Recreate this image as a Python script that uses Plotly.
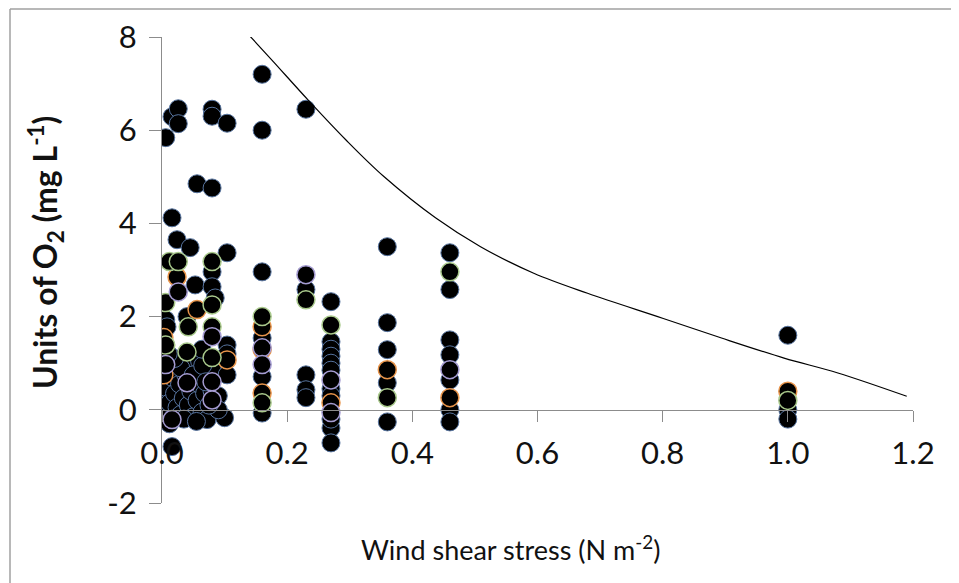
import plotly.graph_objects as go

# ---- data ----
plain_x = [0.006, 0.016, 0.026, 0.026, 0.08, 0.08, 0.104, 0.16, 0.16, 0.23,
           0.056, 0.08, 0.016, 0.024, 0.045, 0.104,
           0.16, 0.08, 0.053, 0.08, 0.006, 0.008, 0.104, 0.16, 0.16, 0.16, 0.056,
           0.23, 0.23, 0.23, 0.23,
           0.27, 0.27, 0.27, 0.27, 0.27, 0.27, 0.27, 0.27, 0.27, 0.27, 0.27,
           0.36, 0.36, 0.36, 0.36, 0.36,
           0.46, 0.46, 0.46, 0.46, 0.46, 0.46, 0.46,
           1.0, 1.0, 1.0,
           0.003, 0.003, 0.003, 0.006, 0.01, 0.012, 0.016, 0.02, 0.024, 0.028,
           0.03, 0.034, 0.038, 0.042, 0.046, 0.05, 0.056, 0.06, 0.064, 0.068,
           0.072, 0.08, 0.08, 0.1, 0.104, 0.104, 0.016, 0.045, 0.06,
           0.03, 0.05, 0.065, 0.07, 0.09, 0.09, 0.035, 0.012, 0.055, 0.075,
           0.02, 0.064, 0.01, 0.04, 0.085]
plain_y = [5.84, 6.29, 6.46, 6.14, 6.45, 6.3, 6.15, 7.2, 6.0, 6.45,
           4.85, 4.76, 4.12, 3.65, 3.48, 3.37,
           2.96, 2.96, 2.68, 2.64, 1.93, 1.78, 1.39, 1.54, 0.71, -0.07, 0.79,
           2.58, 0.75, 0.43, 0.26,
           2.32, 1.46, 1.3, 1.15, 1.0, 0.85, 0.45, 0.3, -0.39, -0.71, -0.2,
           3.5, 1.87, 1.29, 0.58, -0.26,
           3.37, 2.58, 1.5, 1.18, 0.64, 0.0, -0.26,
           1.6, 0.0, -0.2,
           0.6, 0.3, 0.0, -0.2, 0.45, 0.15, 0.7, 0.35, 0.05, 0.55,
           -0.1, 0.25, 0.75, 0.1, 0.4, -0.15, 0.2, 0.55, -0.05, 0.35,
           -0.21, 0.9, 0.4, -0.17, 0.75, 1.2, -0.79, 1.0, 1.05,
           0.9, 0.75, 0.95, 0.6, 0.3, 0.0, -0.2, -0.3, -0.25, 0.1,
           1.1, 1.3, 1.2, 2.0, 2.4]

orange_x = [0.024, 0.056, 0.104, 0.003, 0.003, 0.16, 0.16, 0.16, 0.27, 0.36, 0.46, 1.0]
orange_y = [2.85, 2.15, 1.07, 1.55, 0.75, 1.78, 1.29, 0.36, 0.15, 0.86, 0.26, 0.4]

green_x = [0.012, 0.026, 0.08, 0.006, 0.08, 0.042, 0.006, 0.04, 0.08, 0.08,
           0.16, 0.16, 0.23, 0.27, 0.36, 0.46, 1.0]
green_y = [3.18, 3.18, 3.18, 2.3, 2.25, 1.78, 1.39, 1.24, 1.12, 1.78,
           2.0, 0.15, 2.36, 1.82, 0.26, 2.96, 0.2]

purple_x = [0.026, 0.08, 0.006, 0.04, 0.08, 0.08, 0.016, 0.16, 0.16, 0.23,
            0.27, 0.27, 0.46]
purple_y = [2.53, 1.57, 0.97, 0.58, 0.6, 0.21, -0.21, 1.33, 0.97, 2.9,
            0.64, -0.06, 0.86]

curve_x = [0.137, 0.176, 0.234, 0.294, 0.355, 0.437, 0.509, 0.594, 0.680,
           0.801, 0.894, 0.994, 1.080, 1.19]
curve_y = [8.07, 7.5, 6.64, 5.79, 5.0, 4.12, 3.5, 2.93, 2.5,
           1.96, 1.54, 1.11, 0.79, 0.29]

x_ticks = [0.0, 0.2, 0.4, 0.6, 0.8, 1.0, 1.2]
x_ticklabels = ["0.0", "0.2", "0.4", "0.6", "0.8", "1.0", "1.2"]
y_ticks = [-2, 0, 2, 4, 6, 8]
y_ticklabels = ["-2", "0", "2", "4", "6", "8"]

FONT = "Lato"
MSIZE = 18
OFF = 8  # default page body margin
# target plot-area edges in page pixels
PL, PT, PR, PB = 162, 37, 913, 503
W, H = 959, 583
PW, PH = PR - PL, PB - PT

fig = go.Figure()


def add_series(xs, ys, edge, w):
    fig.add_trace(go.Scatter(
        x=xs, y=ys, mode="markers", showlegend=False,
        marker=dict(size=MSIZE, color="black", line=dict(color=edge, width=w)),
    ))


add_series(plain_x, plain_y, "#56739E", 1)
add_series(orange_x, orange_y, "#E8944A", 1.5)
add_series(green_x, green_y, "#A9C98C", 1.5)
add_series(purple_x, purple_y, "#A59CD2", 1.5)

fig.add_trace(go.Scatter(x=curve_x, y=curve_y, mode="lines", showlegend=False,
                         line=dict(color="black", width=1.2, shape="spline")))


def px(xp):
    return (xp - PL) / PW


def py(yp):
    return (PB - yp) / PH


fig.update_layout(
    width=W, height=H,
    margin=dict(l=PL - OFF, r=W - PR + OFF, t=PT - OFF, b=H - PB + OFF, autoexpand=False),
    paper_bgcolor="white", plot_bgcolor="rgba(0,0,0,0)",
    font=dict(family=FONT, size=31, color="#111111"),
    xaxis=dict(
        range=[0, 1.2], tickvals=x_ticks, ticktext=x_ticklabels,
        anchor="free", position=0.2, automargin=False,
        showgrid=False, zeroline=False, showline=True, linecolor="#8C8C8C", linewidth=1.3,
        ticks="outside", ticklen=11, tickcolor="#8C8C8C", tickwidth=1.3,
        ticklabelstandoff=5, tickfont=dict(family=FONT, size=31, color="#111111"),
    ),
    yaxis=dict(
        range=[-2, 8], tickvals=y_ticks, ticktext=y_ticklabels, automargin=False,
        showgrid=False, zeroline=False, showline=True, linecolor="#8C8C8C", linewidth=1.3,
        ticks="outside", ticklen=12, tickcolor="#8C8C8C", tickwidth=1.3,
        ticklabelstandoff=6, tickfont=dict(family=FONT, size=31, color="#111111"),
    ),
    annotations=[
        dict(text="Wind shear stress (N m<sup>-2</sup>)", xref="paper", yref="paper",
             x=px(510), y=py(548), xanchor="center", yanchor="middle",
             showarrow=False, font=dict(family=FONT, size=27, color="#111111")),
        dict(text="<b>Units of O<sub>2</sub> (mg L<sup>-1</sup>)</b>", xref="paper", yref="paper",
             x=px(45), y=py(253), xanchor="center", yanchor="middle",
             textangle=-90, showarrow=False, font=dict(family=FONT, size=32, color="#111111")),
    ],
    shapes=[
        dict(type="line", xref="paper", yref="paper",
             x0=px(10), x1=px(10), y0=py(9), y1=py(600),
             line=dict(color="#A0A0A0", width=1.5)),
        dict(type="line", xref="paper", yref="paper",
             x0=px(10), x1=px(980), y0=py(9), y1=py(9),
             line=dict(color="#A0A0A0", width=1.5)),
    ],
)

fig.write_html("out.html")
